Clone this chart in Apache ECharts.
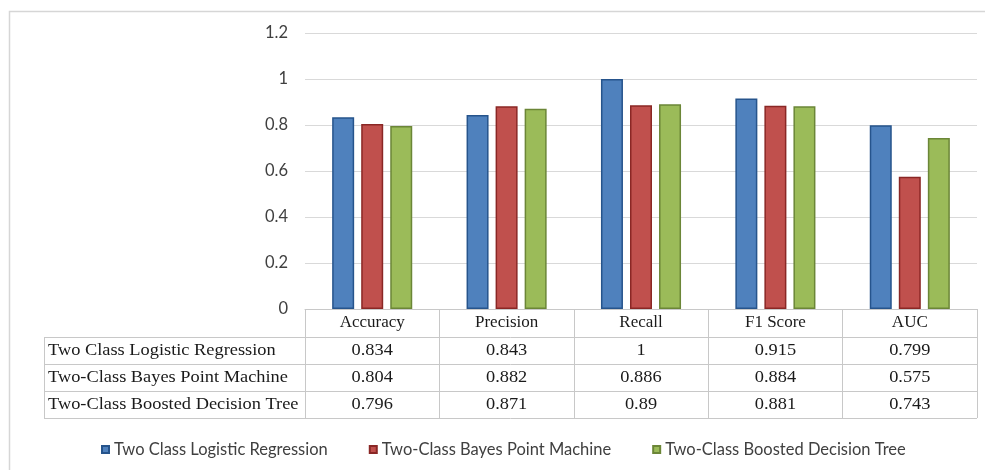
<!DOCTYPE html>
<html>
<head>
<meta charset="utf-8">
<script src="https://cdn.jsdelivr.net/npm/echarts@6/dist/echarts.min.js"></script>
<style>
  html, body { margin: 0; padding: 0; background: #fff; }
  #chart { width: 985px; height: 470px; }
</style>
</head>
<body>
<div id="chart"></div>
<script>
// Metrics compared across three two-class classifiers
const categories = ['Accuracy', 'Precision', 'Recall', 'F1 Score', 'AUC'];
const seriesNames = [
  'Two Class Logistic Regression',
  'Two-Class Bayes Point Machine',
  'Two-Class Boosted Decision Tree'
];
const logisticRegression = [0.834, 0.843, 1, 0.915, 0.799];
const bayesPointMachine = [0.804, 0.882, 0.886, 0.884, 0.575];
const boostedDecisionTree = [0.796, 0.871, 0.89, 0.881, 0.743];
const yTicks = [0, 0.2, 0.4, 0.6, 0.8, 1, 1.2];

const seriesValues = [logisticRegression, bayesPointMachine, boostedDecisionTree];
const fills = ['#4f81bd', '#c0504d', '#9bbb59'];
const borders = ['#26548c', '#8a2725', '#6b8637'];

const SERIF = '"Liberation Serif", "DejaVu Serif", serif';
const SANS = 'Lato, "Open Sans", sans-serif';
const LINE = '#c8c8c8';
const TEXT = '#1a1a1a';

const chart = echarts.init(document.getElementById('chart'), null, { renderer: 'canvas' });

const option = {
  animation: false,
  backgroundColor: '#fff',
  grid: { left: 305, right: 8, top: 33, bottom: 161, containLabel: false },
  xAxis: {
    type: 'category',
    data: categories,
    axisLine: { show: true, lineStyle: { color: LINE, width: 1 } },
    axisTick: { show: true, interval: 0, length: 109, lineStyle: { color: LINE } },
    axisLabel: { interval: 0, margin: 5, fontFamily: SERIF, fontSize: 17, color: TEXT, verticalAlign: 'top' }
  },
  yAxis: {
    type: 'value',
    min: yTicks[0],
    max: yTicks[yTicks.length - 1],
    interval: 0.2,
    axisLine: { show: false },
    axisTick: { show: false },
    splitLine: { lineStyle: { color: '#d9d9d9', width: 1 } },
    axisLabel: {
      margin: 17,
      fontFamily: SANS,
      fontSize: 16.5,
      color: '#404040',
      formatter: v => String(Math.round(v * 10) / 10)
    }
  },
  legend: {
    top: 436,
    left: 96,
    icon: 'rect',
    itemWidth: 7,
    itemHeight: 7,
    itemGap: 41,
    textStyle: { fontFamily: SANS, fontSize: 16.5, color: '#404040' },
    data: seriesNames
  },
  series: seriesNames.map((name, i) => ({
    name,
    type: 'bar',
    data: seriesValues[i],
    barWidth: 22,
    barGap: '32%',
    itemStyle: { color: fills[i], borderColor: borders[i], borderWidth: 1.5 }
  }))
};

chart.setOption(option);

// Data table drawn under the axis, aligned with the category bands
function drawTable() {
  const x0 = chart.convertToPixel({ xAxisIndex: 0 }, 0);
  const x1 = chart.convertToPixel({ xAxisIndex: 0 }, 1);
  const band = x1 - x0;
  const left = x0 - band / 2;
  const right = left + band * categories.length;
  const yZero = chart.convertToPixel({ yAxisIndex: 0 }, 0);
  const headerH = 28;
  const rowH = 27;
  const labelLeft = 44;
  const els = [];

  // outer frame of the chart
  els.push({
    type: 'rect', silent: true,
    shape: { x: 9.5, y: 11.5, width: 1000, height: 500 },
    style: { fill: null, stroke: '#d6d6d6', lineWidth: 1.5 }
  });

  const rowTops = [];
  for (let r = 0; r <= seriesNames.length; r++) rowTops.push(yZero + headerH + r * rowH);

  rowTops.forEach(y => {
    const yy = Math.round(y) + 0.5;
    els.push({ type: 'line', silent: true, shape: { x1: labelLeft, y1: yy, x2: right, y2: yy }, style: { stroke: LINE, lineWidth: 1 } });
  });
  // left edge of row-label column
  els.push({ type: 'line', silent: true,
    shape: { x1: labelLeft + 0.5, y1: Math.round(rowTops[0]) + 0.5, x2: labelLeft + 0.5, y2: Math.round(rowTops[rowTops.length - 1]) + 0.5 },
    style: { stroke: LINE, lineWidth: 1 } });

  seriesNames.forEach((name, r) => {
    const cy = rowTops[r] + rowH / 2;
    els.push({ type: 'text', silent: true, x: labelLeft + 4, y: cy, scaleX: 1.08,
      style: { text: name, font: '17px ' + SERIF, fill: TEXT, align: 'left', verticalAlign: 'middle' } });
    seriesValues[r].forEach((v, c) => {
      const cx = chart.convertToPixel({ xAxisIndex: 0 }, c);
      els.push({ type: 'text', silent: true, x: cx, y: cy, scaleX: 1.08,
        style: { text: String(v), font: '17px ' + SERIF, fill: TEXT, align: 'center', verticalAlign: 'middle' } });
    });
  });

  chart.setOption({ graphic: { elements: els } });
}

drawTable();
</script>
</body>
</html>
